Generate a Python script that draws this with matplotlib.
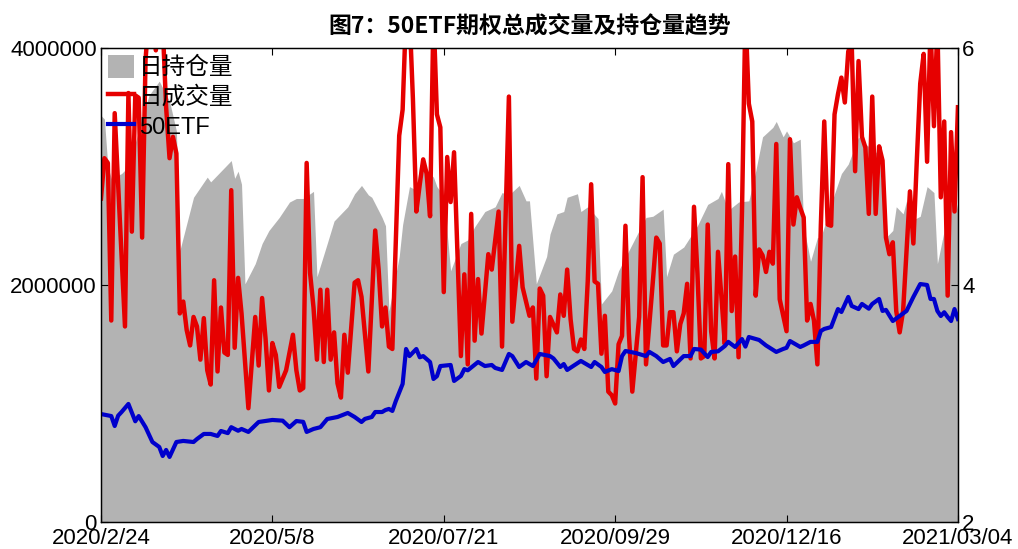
import matplotlib
matplotlib.use("Agg")
import matplotlib.pyplot as plt
import numpy as np
from matplotlib.patches import Patch
from matplotlib.lines import Line2D

plt.rcParams['font.family'] = ['Liberation Sans', 'Noto Sans CJK SC', 'DejaVu Sans']

# trading-day index (0 = 2020/2/24, 250 = 2021/03/04)
tick_days = [0, 50, 100, 150, 200, 250]
tick_labels = ["2020/2/24", "2020/5/8", "2020/07/21", "2020/09/29", "2020/12/16", "2021/03/04"]

# daily open interest, unit: 10k contracts
oi_days = [0, 1, 2, 3, 6, 8, 11, 14, 17, 20, 22, 23, 27, 31, 32, 35, 38, 39, 40, 41,
           42, 45, 47, 49, 52, 55, 57, 59, 62, 63, 66, 68, 72, 74, 76, 78, 79, 82, 83, 84,
           87, 88, 90, 92, 93, 97, 98, 100, 102, 105, 107, 109, 112, 115, 117, 119, 122, 124, 125, 127,
           130, 131, 133, 135, 136, 139, 140, 142, 145, 146, 149, 151, 154, 157, 159, 161, 164, 165, 167, 170,
           174, 177, 180, 181, 183, 186, 189, 191, 193, 196, 197, 199, 200, 202, 204, 205, 207, 209, 210, 214,
           216, 218, 221, 223, 227, 229, 231, 232, 234, 235, 237, 239, 241, 243, 244, 246, 247, 249, 250]
oi_vals = [343, 340, 300, 290, 294, 300, 330, 360, 372, 355, 330, 229, 274, 291, 287, 296, 305, 290, 296, 285,
           201, 218, 235, 246, 257, 270, 273, 273, 279, 207, 235, 254, 266, 277, 284, 276, 274, 257, 250, 178,
           224, 251, 283, 280, 302, 291, 283, 275, 212, 235, 238, 249, 262, 266, 278, 276, 284, 271, 271, 201,
           224, 243, 260, 262, 274, 277, 262, 266, 256, 184, 195, 212, 229, 246, 257, 258, 264, 207, 226, 232,
           250, 268, 273, 279, 263, 270, 271, 296, 325, 333, 338, 325, 330, 320, 323, 249, 220, 240, 240, 277,
           294, 302, 325, 319, 310, 240, 246, 266, 260, 271, 255, 258, 283, 278, 218, 246, 262, 277, 262]

# daily volume, unit: 10k contracts
vol_days = [0, 1, 2, 3, 4, 7, 8, 9, 10, 11, 12, 13, 14, 15, 16, 17, 18, 19, 20, 21,
            22, 23, 24, 25, 26, 27, 28, 29, 30, 31, 32, 33, 34, 35, 36, 37, 38, 39, 40, 41,
            43, 45, 46, 47, 48, 49, 50, 51, 52, 54, 56, 57, 58, 59, 60, 61, 62, 63, 64, 65,
            66, 67, 68, 69, 70, 71, 72, 74, 75, 76, 78, 80, 81, 82, 83, 84, 85, 87, 88, 89,
            90, 91, 92, 93, 94, 95, 96, 97, 98, 99, 100, 101, 102, 103, 105, 106, 107, 108, 109, 110,
            111, 113, 114, 116, 117, 119, 120, 122, 123, 125, 126, 127, 128, 129, 130, 131, 133, 134, 135, 136,
            137, 138, 139, 140, 141, 142, 143, 144, 145, 146, 147, 148, 149, 150, 151, 152, 153, 154, 155, 157,
            158, 159, 161, 162, 163, 164, 165, 166, 167, 168, 169, 170, 171, 172, 173, 174, 175, 176, 177, 178,
            179, 180, 181, 182, 183, 184, 185, 186, 187, 188, 189, 190, 191, 192, 193, 194, 195, 196, 197, 198,
            200, 201, 202, 203, 204, 205, 206, 207, 208, 209, 210, 211, 212, 213, 214, 215, 216, 217, 218, 219,
            220, 221, 222, 223, 224, 225, 226, 227, 228, 229, 230, 231, 232, 233, 234, 236, 237, 238, 239, 240,
            241, 242, 243, 244, 245, 246, 247, 248, 249, 250]
vol_vals = [273, 307, 303, 170, 345, 165, 362, 245, 360, 358, 240, 390, 430, 420, 398, 430, 420, 350, 307, 325,
            311, 176, 186, 162, 149, 173, 165, 137, 172, 128, 116, 204, 127, 181, 143, 141, 280, 147, 206, 176,
            96, 173, 132, 189, 155, 111, 151, 141, 114, 128, 158, 128, 111, 113, 303, 210, 181, 137, 196, 135,
            196, 137, 160, 117, 105, 158, 126, 202, 204, 190, 127, 246, 213, 165, 181, 148, 146, 326, 348, 430,
            430, 357, 262, 285, 306, 294, 258, 430, 344, 333, 194, 308, 270, 312, 140, 209, 133, 260, 153, 205,
            159, 226, 213, 262, 148, 359, 169, 233, 198, 174, 181, 121, 197, 191, 123, 173, 160, 192, 174, 213,
            171, 146, 144, 154, 146, 203, 285, 203, 201, 142, 174, 110, 107, 100, 150, 157, 250, 159, 110, 173,
            291, 133, 203, 240, 235, 149, 149, 177, 177, 144, 167, 176, 201, 138, 266, 210, 138, 140, 251, 161,
            138, 228, 190, 150, 302, 178, 224, 139, 262, 430, 353, 338, 191, 230, 225, 211, 228, 218, 319, 188,
            161, 323, 251, 274, 265, 257, 170, 184, 170, 133, 250, 338, 251, 250, 344, 361, 375, 354, 397, 405,
            296, 389, 325, 316, 260, 359, 260, 317, 305, 240, 226, 236, 178, 160, 178, 279, 235, 305, 370, 395,
            304, 420, 334, 420, 274, 338, 191, 329, 262, 350]

# 50ETF close
etf_days = [0, 3, 4, 5, 6, 8, 10, 11, 13, 15, 17, 18, 19, 20, 22, 24, 27, 28, 30, 32,
            34, 35, 37, 38, 40, 41, 43, 46, 50, 53, 55, 57, 59, 60, 62, 64, 66, 69, 72, 74,
            76, 77, 79, 80, 82, 83, 84, 85, 86, 88, 89, 90, 92, 93, 94, 96, 97, 98, 99, 102,
            103, 105, 106, 107, 110, 112, 114, 115, 117, 119, 120, 122, 124, 125, 126, 128, 131, 132, 134, 135,
            136, 140, 143, 144, 146, 147, 149, 151, 152, 153, 156, 159, 160, 162, 164, 166, 167, 170, 172, 173,
            175, 177, 178, 180, 182, 183, 185, 187, 188, 189, 192, 194, 197, 199, 200, 201, 202, 204, 205, 207,
            209, 210, 211, 213, 215, 216, 218, 219, 221, 222, 224, 225, 227, 228, 229, 231, 233, 235, 237, 239,
            241, 242, 243, 244, 245, 246, 247, 248, 249, 250]
etf_vals = [2.911, 2.894, 2.81, 2.897, 2.928, 2.996, 2.85, 2.894, 2.80, 2.675, 2.633, 2.557, 2.608, 2.549, 2.675, 2.684, 2.675, 2.70, 2.743, 2.743,
            2.726, 2.768, 2.75, 2.80, 2.77, 2.785, 2.76, 2.844, 2.861, 2.855, 2.80, 2.852, 2.845, 2.76, 2.785, 2.80, 2.869, 2.886, 2.92, 2.886,
            2.844, 2.87, 2.886, 2.928, 2.928, 2.945, 2.954, 2.937, 3.02, 3.165, 3.46, 3.40, 3.46, 3.39, 3.40, 3.35, 3.207, 3.23, 3.316, 3.325,
            3.19, 3.232, 3.29, 3.28, 3.35, 3.316, 3.325, 3.30, 3.283, 3.418, 3.40, 3.308, 3.35, 3.333, 3.316, 3.418, 3.40, 3.38, 3.308, 3.333,
            3.283, 3.359, 3.308, 3.35, 3.308, 3.266, 3.29, 3.274, 3.40, 3.443, 3.426, 3.40, 3.435, 3.40, 3.35, 3.376, 3.316, 3.40, 3.40, 3.46,
            3.455, 3.392, 3.435, 3.44, 3.485, 3.52, 3.477, 3.544, 3.48, 3.561, 3.536, 3.49, 3.435, 3.46, 3.47, 3.527, 3.51, 3.477, 3.49, 3.52,
            3.52, 3.612, 3.629, 3.645, 3.797, 3.772, 3.899, 3.823, 3.797, 3.84, 3.80, 3.84, 3.882, 3.781, 3.79, 3.696, 3.738, 3.781, 3.899, 4.008,
            4.0, 3.882, 3.882, 3.781, 3.738, 3.77, 3.73, 3.696, 3.797, 3.713]

fig = plt.figure(figsize=(10.18, 5.49), dpi=100)
ax = fig.add_axes([0.0992, 0.0492, 0.8418, 0.8634])
ax2 = ax.twinx()

ax.fill_between(oi_days, np.array(oi_vals) * 1e4, 0, color="#b3b3b3", lw=0)
ax.plot(vol_days, np.array(vol_vals) * 1e4, color="#e60000", lw=3.2)
ax2.plot(etf_days, etf_vals, color="#0000cc", lw=3.0)

ax.set_xlim(0, 250)
ax.set_ylim(0, 4000000)
ax2.set_ylim(2, 6)
ax.set_yticks([0, 2000000, 4000000])
ax.set_yticklabels(["0", "2000000", "4000000"])
ax2.set_yticks([2, 4, 6])
ax.set_xticks(tick_days)
ax.set_xticklabels(tick_labels)

ax.tick_params(axis="x", direction="in", length=5, width=0.8, top=True, labelsize=16, pad=4)
ax.tick_params(axis="y", direction="in", length=5, width=0.8, labelsize=16, pad=3)
ax2.tick_params(axis="y", direction="in", length=5, width=0.8, labelsize=16, pad=3)
for a in (ax, ax2):
    for s in a.spines.values():
        s.set_color("black")
        s.set_linewidth(0.9)

ax.set_title("图7：50ETF期权总成交量及持仓量趋势", fontsize=16.5, fontweight="bold",
             family=["Noto Sans CJK SC"], pad=11)

handles = [Patch(facecolor="#b3b3b3", edgecolor="none"),
           Line2D([], [], color="#e60000", lw=3.2),
           Line2D([], [], color="#0000cc", lw=3.0)]
leg = ax2.legend(handles, ["日持仓量", "日成交量", "50ETF"], loc="upper left", frameon=False,
                 fontsize=17, handlelength=1.1, handleheight=1.1, handletextpad=0.2,
                 labelspacing=0.22, borderaxespad=0.2, borderpad=0.1)

fig.savefig("out.png", dpi=100)
